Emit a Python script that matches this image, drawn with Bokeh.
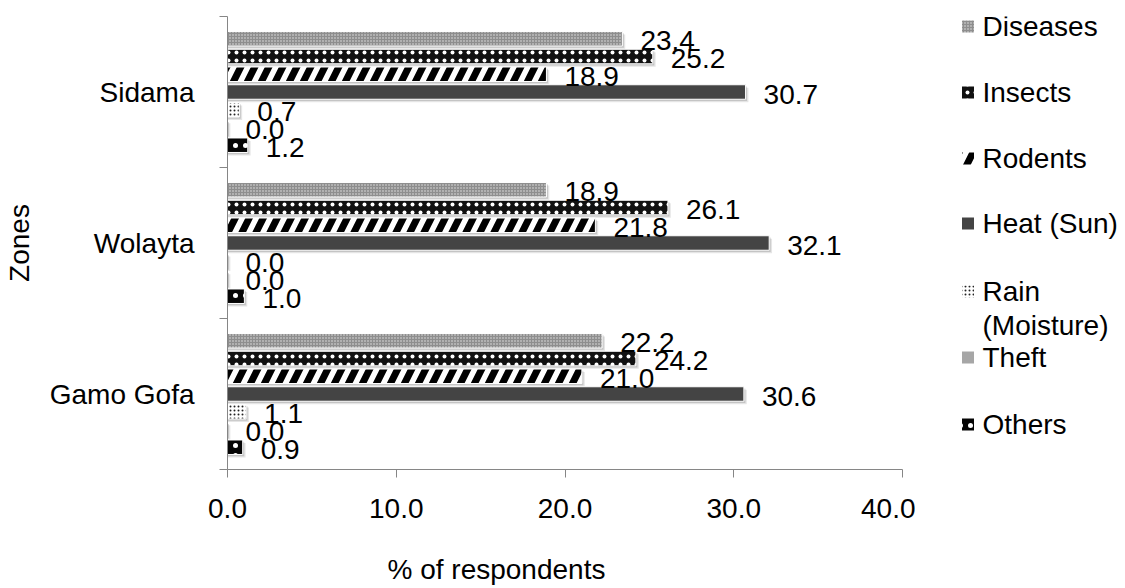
from bokeh.plotting import figure
from bokeh.models import ColumnDataSource, FixedTicker, NumeralTickFormatter, Range1d
from bokeh.transform import dodge
from bokeh.layouts import row, column
from bokeh.core.properties import value
from bokeh.embed import file_html
from bokeh.resources import INLINE

# Zones listed top to bottom
zones = ["Sidama", "Wolayta", "Gamo Gofa"]
causes = ["Diseases", "Insects", "Rodents", "Heat (Sun)", "Rain (Moisture)", "Theft", "Others"]

# % of respondents per cause, in zone order above
diseases = [23.4, 18.9, 22.2]
insects = [25.2, 26.1, 24.2]
rodents = [18.9, 21.8, 21.0]
heat = [30.7, 32.1, 30.6]
rain = [0.7, 0.0, 1.1]
theft = [0.0, 0.0, 0.0]
others = [1.2, 1.0, 0.9]

x_ticks = [0, 10, 20, 30, 40]

series = [diseases, insects, rodents, heat, rain, theft, others]

FONT = "Liberation Sans"
FS = "28px"
AXIS_GREY = "#868686"
SLOT = 0.1175
BAR_H = 0.096

styles = {
    "Diseases": dict(fill_color="#8e8e8e", hatch_pattern="dot", hatch_color="#e6e6e6", hatch_scale=3, hatch_weight=1),
    "Insects": dict(fill_color="#111111", hatch_pattern="dot", hatch_color="white", hatch_scale=8, hatch_weight=4),
    "Rodents": dict(fill_color="white", hatch_pattern="right_diagonal_line", hatch_color="black", hatch_scale=28, hatch_weight=7),
    "Heat (Sun)": dict(fill_color="#444444"),
    "Rain (Moisture)": dict(fill_color="white", hatch_pattern="dot", hatch_color="#222222", hatch_scale=4, hatch_weight=2),
    "Theft": dict(fill_color="#a6a6a6"),
    "Others": dict(fill_color="#050505", hatch_pattern="dot", hatch_color="white", hatch_scale=10, hatch_weight=2.5),
}

n = len(zones)
pos = [n - i - 0.5 for i in range(n)]

TOP_H = 540      # chart + legend strip
FRAME_B = 469    # page y of the plot frame bottom

p = figure(width=915, height=TOP_H, x_range=Range1d(0, 40), y_range=Range1d(0, 3),
           output_backend="svg", toolbar_location=None,
           min_border_left=225, min_border_right=13, min_border_top=16,
           min_border_bottom=TOP_H - FRAME_B)
p.outline_line_color = None
p.xgrid.grid_line_color = None
p.ygrid.grid_line_color = None
p.background_fill_color = "white"
p.border_fill_color = "white"

# x axis
p.xaxis.ticker = FixedTicker(ticks=x_ticks)
p.xaxis.formatter = NumeralTickFormatter(format="0.0")
p.xaxis.axis_line_color = AXIS_GREY
p.xaxis.major_tick_line_color = AXIS_GREY
p.xaxis.major_tick_out = 8
p.xaxis.major_tick_in = 0
p.xaxis.minor_tick_line_color = None
p.xaxis.major_label_text_font = FONT
p.xaxis.major_label_text_font_size = FS
p.xaxis.major_label_text_color = "black"
p.xaxis.major_label_standoff = 21

# y axis: labels at zone centres, ticks at zone boundaries
p.yaxis.ticker = FixedTicker(ticks=pos, minor_ticks=[float(k) for k in range(n + 1)])
p.yaxis.major_label_overrides = {pv: z for pv, z in zip(pos, zones)}
p.yaxis.axis_line_color = AXIS_GREY
p.yaxis.major_tick_out = 0
p.yaxis.major_tick_in = 0
p.yaxis.minor_tick_line_color = AXIS_GREY
p.yaxis.minor_tick_out = 8
p.yaxis.minor_tick_in = 0
p.yaxis.major_label_text_font = FONT
p.yaxis.major_label_text_font_size = FS
p.yaxis.major_label_text_color = "black"
p.yaxis.major_label_standoff = 25
p.yaxis.axis_label = "Zones"
p.yaxis.axis_label_text_font = FONT
p.yaxis.axis_label_text_font_size = FS
p.yaxis.axis_label_text_font_style = "normal"
p.yaxis.axis_label_text_color = "black"
p.yaxis.axis_label_standoff = 12

sources = []
for k, (cause, vals) in enumerate(zip(causes, series)):
    off = (3 - k) * SLOT
    src = ColumnDataSource(dict(pos=pos, value=vals, label=[f"{v:.1f}" for v in vals]))
    sources.append((cause, off, src))

# soft drop shadows
for cause, off, src in sources:
    p.hbar(y=dodge("pos", off - 0.02), left=0, right=dodge("value", 0.17), height=BAR_H,
           fill_color="black", fill_alpha=0.10, line_color=None, source=src)
    p.hbar(y=dodge("pos", off - 0.011), left=0, right=dodge("value", 0.09), height=BAR_H,
           fill_color="black", fill_alpha=0.14, line_color=None, source=src)

# bars
for cause, off, src in sources:
    p.hbar(y=dodge("pos", off), left=0, right="value", height=BAR_H,
           line_color="white", line_width=1, source=src, **styles[cause])

# value labels
for cause, off, src in sources:
    p.text(x="value", y=dodge("pos", off), text="label", x_offset=18, y_offset=2,
           text_align="left", text_baseline="middle", text_font=value(FONT),
           text_font_size=FS, text_color="black", source=src)

# legend panel; its frame lines up with the chart frame, so y is in page pixels
lf = figure(width=210, height=TOP_H, x_range=Range1d(0, 210), y_range=Range1d(FRAME_B, 16),
            output_backend="svg", toolbar_location=None,
            min_border_left=0, min_border_right=0, min_border_top=16,
            min_border_bottom=TOP_H - FRAME_B)
lf.axis.visible = False
lf.xgrid.grid_line_color = None
lf.ygrid.grid_line_color = None
lf.outline_line_color = None

legend_y = [26, 92, 158, 223, 291, 357, 424]
legend_lines = [["Diseases"], ["Insects"], ["Rodents"], ["Heat (Sun)"], ["Rain", "(Moisture)"], ["Theft"], ["Others"]]
for cause, ly, lines in zip(causes, legend_y, legend_lines):
    lf.rect(x=[52.5], y=[ly], width=13, height=13, line_color="white", line_width=1, **styles[cause])
    lf.text(x=[67] * len(lines), y=[ly + 34 * j for j in range(len(lines))], text=lines,
            text_align="left", text_baseline="middle", text_font=value(FONT),
            text_font_size=FS, text_color="black")

# x-axis title strip beneath the chart (x and y in page pixels)
xt = figure(width=915, height=588 - TOP_H, x_range=Range1d(225, 902), y_range=Range1d(588, TOP_H),
            output_backend="svg", toolbar_location=None,
            min_border_left=225, min_border_right=13, min_border_top=0, min_border_bottom=0)
xt.axis.visible = False
xt.xgrid.grid_line_color = None
xt.ygrid.grid_line_color = None
xt.outline_line_color = None
xt.text(x=[387], y=[569], text=["% of respondents"], text_align="left", text_baseline="middle",
        text_font=value(FONT), text_font_size=FS, text_color="black")

layout = column(row(p, lf), xt)
open("out.html", "w").write(file_html(layout, INLINE))
